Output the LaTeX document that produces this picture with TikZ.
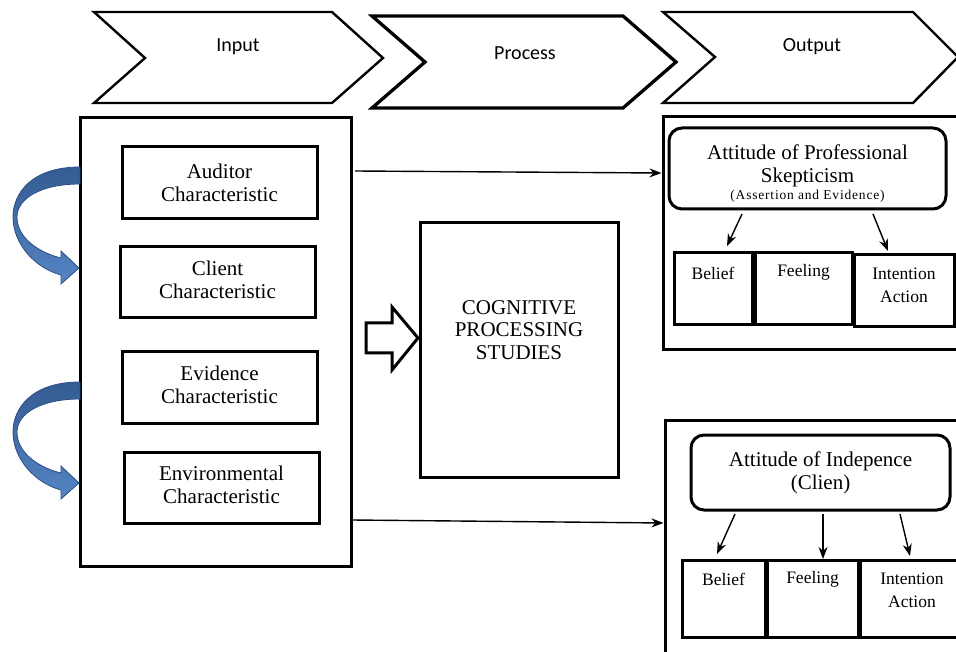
\documentclass[tikz,border=0pt]{standalone}
\usepackage{fontspec}
\setmainfont{Liberation Serif}
\newfontfamily\tnr{Liberation Serif}
\newfontfamily\chevfont{Carlito}
\newfontfamily\spacedfont[LetterSpace=6]{Liberation Serif}
\usetikzlibrary{arrows.meta,calc}
\definecolor{bluetop}{RGB}{52,92,146}
\definecolor{bluebot}{RGB}{86,132,196}
\definecolor{bluedark}{RGB}{44,78,135}
\newcommand\mlines[1]{\begin{tabular}{@{}c@{}}#1\end{tabular}}
\begin{document}
\begin{tikzpicture}[x=1pt,y=-1pt,
  box/.style={draw,line width=3pt,inner sep=0pt},
  rbox/.style={draw,line width=3pt,inner sep=0pt,rounded corners=13pt},
  bigtext/.style={font=\tnr\fontsize{21}{22.5}\selectfont,inner sep=0pt},
  smalltext/.style={font=\tnr\fontsize{17.5}{23}\selectfont,inner sep=0pt},
  chev/.style={draw,line width=2.4pt,line join=miter},
  chevtext/.style={font=\chevfont\fontsize{20}{24}\selectfont,inner sep=0pt},
  conn/.style={-{Stealth[length=12pt,width=9pt]},line width=1.4pt},
  bluearrow/.style={draw=bluedark,line width=0.8pt,top color=bluetop,bottom color=bluebot}]
\useasboundingbox (0,0) rectangle (956,652);
\clip (0,0) rectangle (956,652);

% ---- chevrons ----
\draw[chev] (94,12) -- (332,12) -- (383,58) -- (332,103) -- (94,103) -- (145,58) -- cycle;
\node[chevtext] (tin) at (238,47) {Input};
\draw[chev,line width=3.3pt] (372,16) -- (623,16) -- (676,62) -- (623,108) -- (372,108) -- (425,62) -- cycle;
\node[chevtext] (tproc) at (525,53) {Process};
\draw[chev] (663,12) -- (913,12) -- (958,57) -- (913,103) -- (663,103) -- (715,57) -- cycle;
\node[chevtext] (tout) at (812,47) {Output};

% ---- input block ----
\node[box,minimum width=271pt,minimum height=448pt] (inbox) at (215.5,342) {};
\node[box,minimum width=195pt,minimum height=72pt] (aud) at (219.5,183) {};
\node[bigtext] (audt) at (219.5,185.5) {\mlines{Auditor\\Characteristic}};
\node[box,bigtext,minimum width=195pt,minimum height=71pt] (cli) at (217.5,282.5) {\mlines{Client\\Characteristic}};
\node[box,bigtext,minimum width=195pt,minimum height=71pt] (evi) at (219.5,387.5) {\mlines{Evidence\\Characteristic}};
\node[box,bigtext,minimum width=195pt,minimum height=71pt] (env) at (221.5,487.5) {\mlines{Environmental\\Characteristic}};

% ---- blue curved arrows ----
\foreach \dy in {0,215}{
  \begin{scope}[shift={(0,\dy)}]
    \path[bluearrow] (80,167) .. controls (32,167) and (13,193) .. (13,217)
      .. controls (13,244) and (35,268) .. (61,275)
      -- (61,284) -- (79,268) -- (61,251) -- (61,258)
      .. controls (37,252) and (17,237) .. (17,217)
      .. controls (17,199) and (40,184) .. (80,184) -- cycle;
  \end{scope}
}

% ---- process ----
\node[box,minimum width=198pt,minimum height=254pt] (proc) at (519,350) {};
\node[bigtext] (proctext) at (519,332.5) {\mlines{COGNITIVE\\PROCESSING\\STUDIES}};
\draw[line width=3pt,line join=miter,fill=white] (366,323) -- (392,323) -- (392,307) -- (418,338) -- (392,370) -- (392,353) -- (366,353) -- cycle;

% ---- output 1 ----
\node[box,minimum width=320pt,minimum height=233pt] (out1) at (823,233.5) {};
\node[rbox,minimum width=277pt,minimum height=81pt] (att1) at (807.5,168.5) {};
\node[bigtext] (att1t) at (807.5,166.5) {\mlines{Attitude of Professional\\Skepticism}};
\node[inner sep=0pt,font=\spacedfont\fontsize{13.5}{15}\selectfont] (att1s) at (807.5,196.5) {(Assertion and Evidence)};
\node[box,minimum width=78pt,minimum height=72pt] (bel1) at (713,289) {};
\node[box,minimum width=97pt,minimum height=72pt] (fee1) at (803.5,289) {};
\node[box,minimum width=100pt,minimum height=72pt] (int1) at (904,291) {};
\node[smalltext] (bel1t) at (713,273) {Belief};
\node[smalltext] (fee1t) at (803.5,272.5) {Feeling};
\node[smalltext] (int1t) at (904,286.5) {\mlines{Intention\\Action}};
\coordinate (p1a) at (742,214);
\coordinate (p1b) at (727,246);
\coordinate (p1c) at (873,214);
\coordinate (p1d) at (888,251);
\draw[conn] (p1a) -- (p1b);
\draw[conn] (p1c) -- (p1d);

% ---- output 2 ----
\node[box,minimum width=315pt,minimum height=260pt] (out2) at (822.5,550) {};
\node[rbox,minimum width=259pt,minimum height=75pt] (att2) at (820.5,472.5) {};
\node[bigtext] (att2t) at (820.5,473.5) {\mlines{Attitude of Indepence\\(Clien)}};
\node[box,minimum width=83pt,minimum height=77pt] (bel2) at (723.5,598.5) {};
\node[box,minimum width=91pt,minimum height=77pt] (fee2) at (812.5,598.5) {};
\node[box,minimum width=100pt,minimum height=77pt] (int2) at (910,598.5) {};
\node[smalltext] (bel2t) at (723.5,579) {Belief};
\node[smalltext] (fee2t) at (812.5,579) {Feeling};
\node[smalltext] (int2t) at (912,591.5) {\mlines{Intention\\Action}};
\coordinate (p2a) at (735,514);
\coordinate (p2b) at (717,554);
\coordinate (p2c) at (823,514);
\coordinate (p2d) at (823,559);
\coordinate (p2e) at (900,514);
\coordinate (p2f) at (910,556);
\draw[conn] (p2a) -- (p2b);
\draw[conn] (p2c) -- (p2d);
\draw[conn] (p2e) -- (p2f);

% ---- main connectors ----
\coordinate (c1) at (355,171);
\coordinate (c1e) at (out1.west |- 0,173);
\coordinate (c2) at (352,520);
\coordinate (c2e) at (out2.west |- 0,523);
\draw[conn] (c1) -- (c1e);
\draw[conn] (c2) -- (c2e);
\end{tikzpicture}
\end{document}
